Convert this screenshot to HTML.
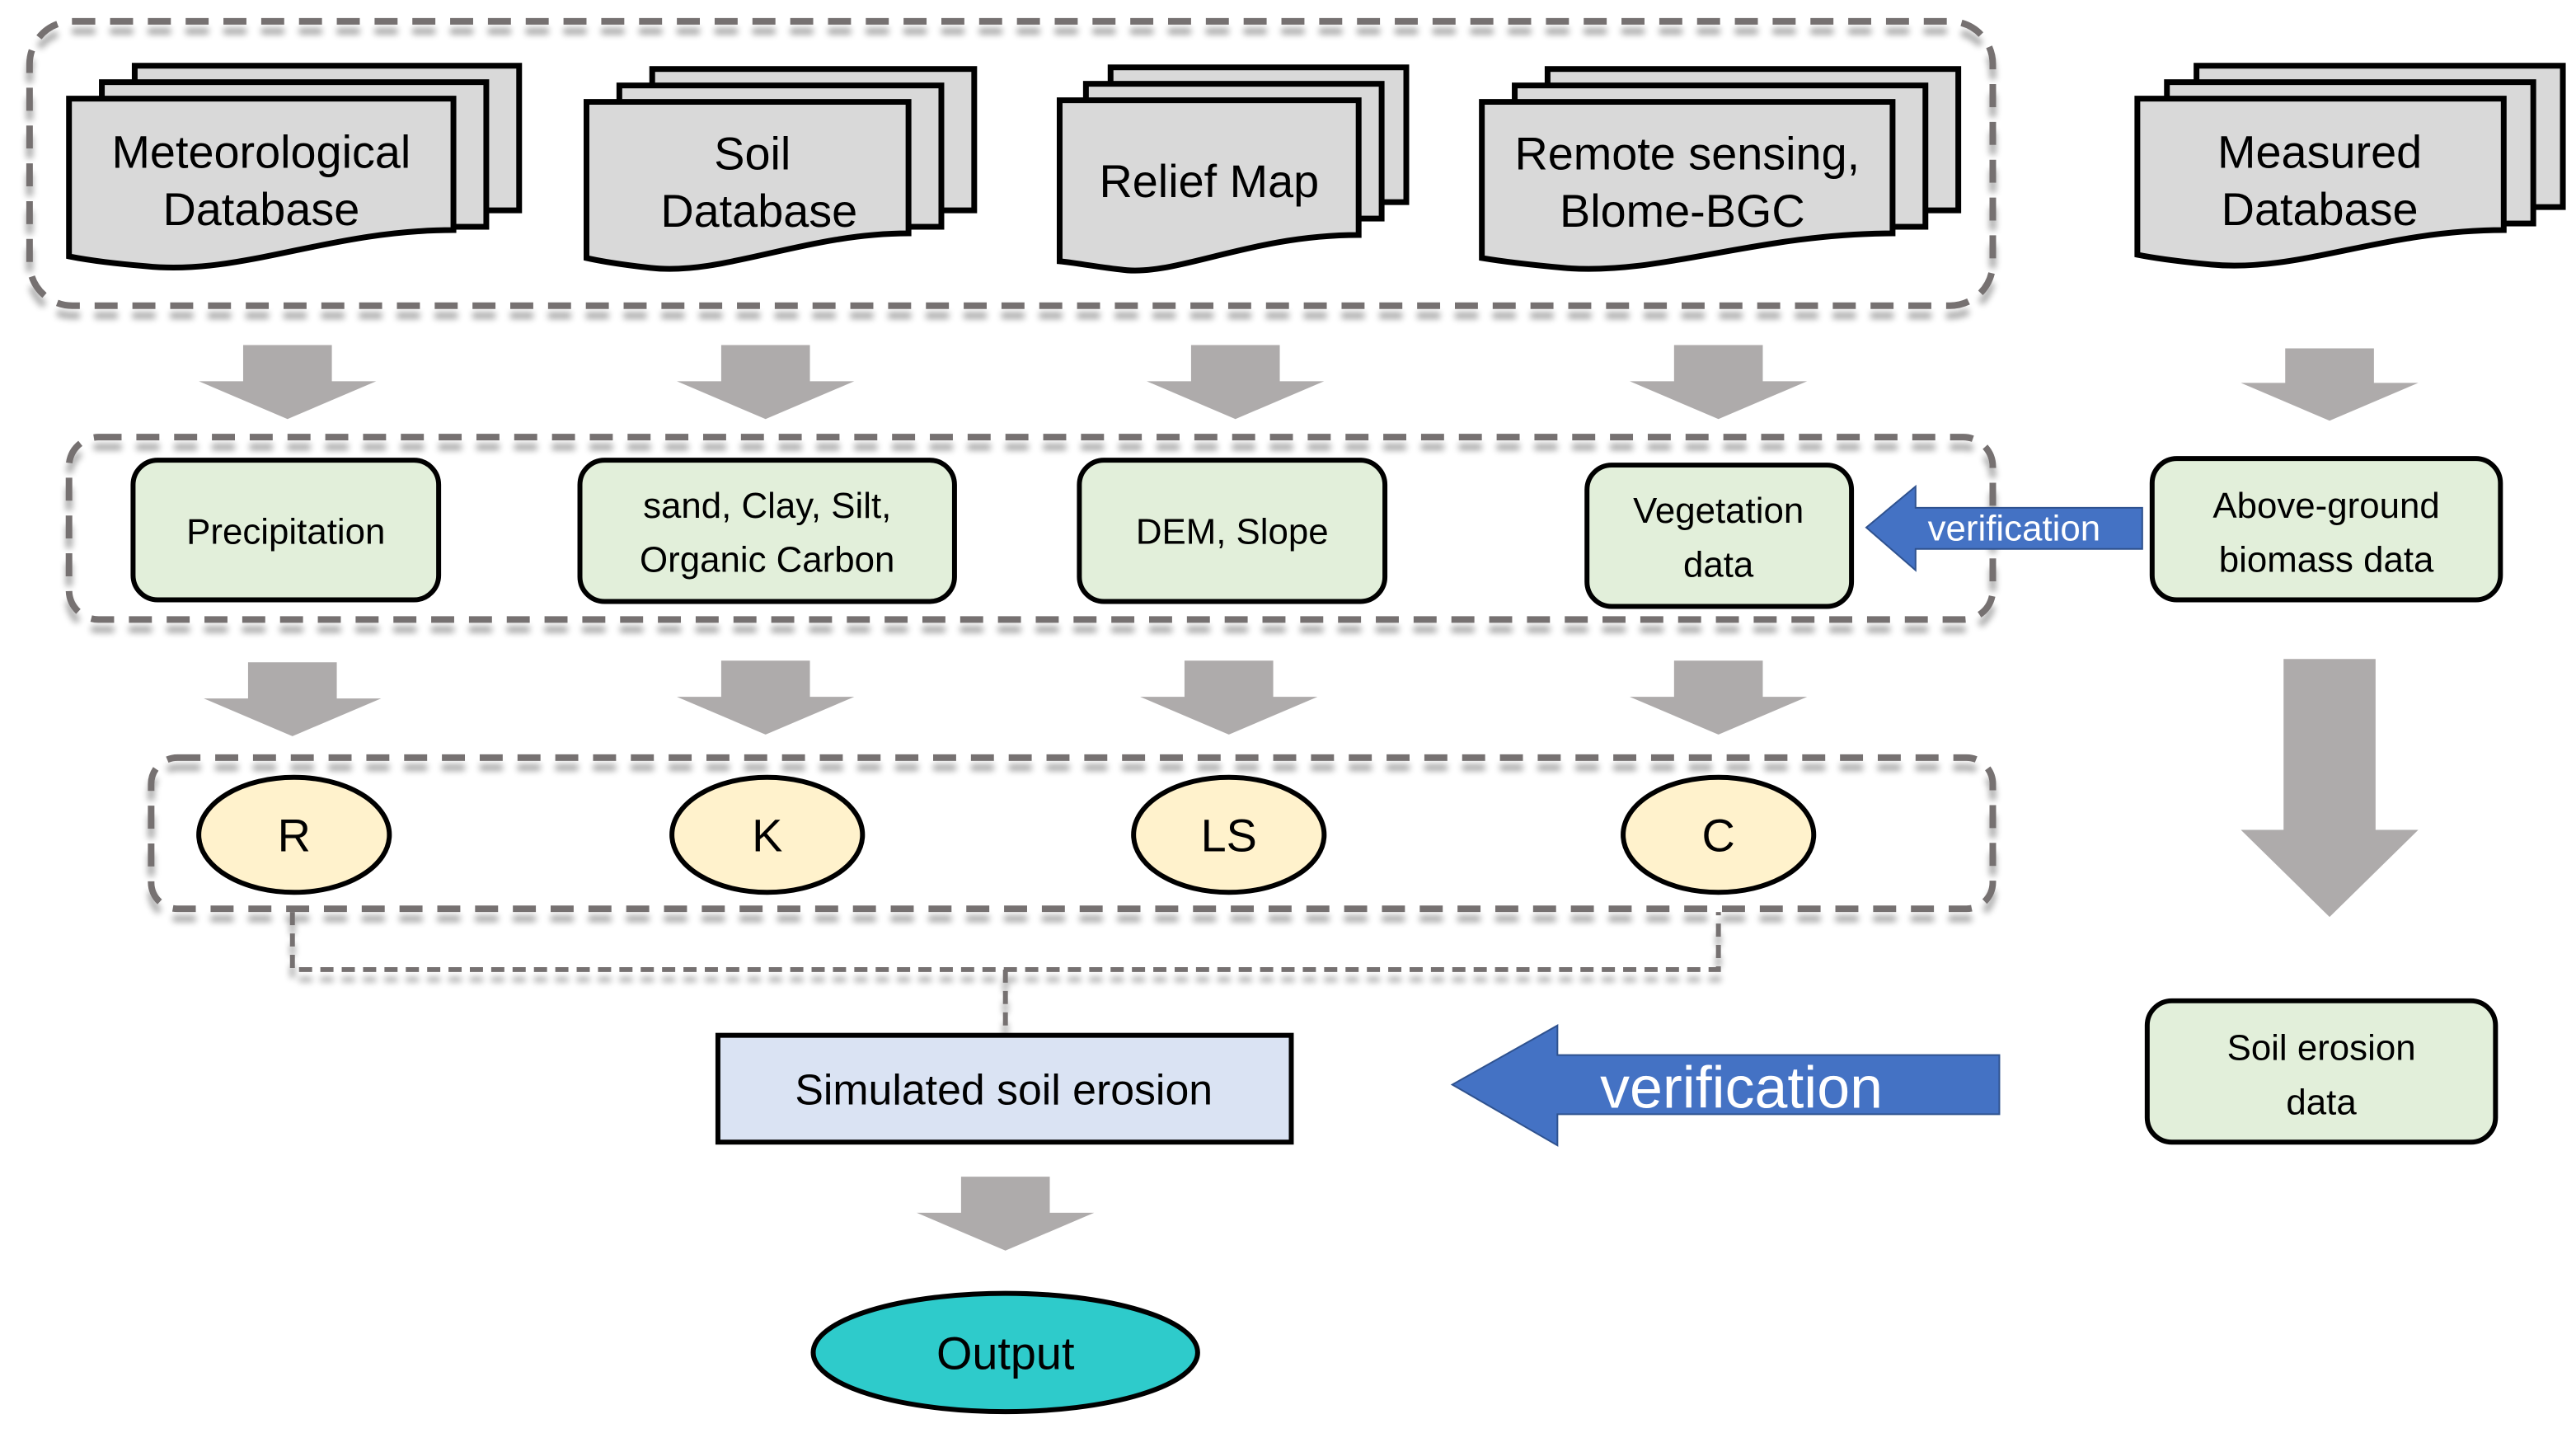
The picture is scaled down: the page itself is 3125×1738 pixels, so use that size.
<!DOCTYPE html>
<html><head><meta charset="utf-8"><style>
html,body{margin:0;padding:0;background:#fff;}
svg{display:block;}
text{font-family:"Liberation Sans",Arial,sans-serif;fill:#000;}
</style></head><body>
<svg width="3125" height="1738" viewBox="0 0 1568 872" preserveAspectRatio="none" xmlns="http://www.w3.org/2000/svg">
<defs>
<filter id="sh" x="-5%" y="-10%" width="110%" height="130%"><feGaussianBlur in="SourceAlpha" stdDeviation="2"/><feOffset dx="0" dy="6"/><feComponentTransfer><feFuncA type="linear" slope="0.35"/></feComponentTransfer><feMerge><feMergeNode/><feMergeNode in="SourceGraphic"/></feMerge></filter>
</defs>
<g fill="none" stroke="#767171" stroke-width="4" stroke-dasharray="14 9" filter="url(#sh)">
<rect x="18" y="13" width="1195" height="173" rx="26"/>
<rect x="42" y="266" width="1171" height="111" rx="18"/>
<rect x="92" y="461" width="1121" height="92" rx="16"/>
<path d="M178,555 V590 H1046 V555 M612,590 V630" stroke-width="3" stroke-dasharray="8 5"/>
</g>

<g fill="#D9D9D9" stroke="#000" stroke-width="3.5">
<rect x="82" y="40" width="234" height="88"/><rect x="62" y="50" width="234" height="88"/>
<path d="M42,60 H276 V140 C200,140 147,168 89,162 C65,160 52,158 42,156 Z"/>
<rect x="397" y="42" width="196" height="86"/><rect x="377" y="52" width="196" height="86"/>
<path d="M357,62 H553 V142 C490,142 440,168 396,163 C378,161 366,159 357,157 Z"/>
<rect x="676" y="41" width="180" height="82"/><rect x="661" y="51" width="180" height="82"/>
<path d="M645,61 H827 V143 C760,143 715,169 682,164 C665,162 655,160 645,159 Z"/>
<rect x="942" y="42" width="250" height="86"/><rect x="922" y="52" width="250" height="86"/>
<path d="M902,62 H1152 V142 C1070,142 1010,168 952,163 C930,161 914,159 902,157 Z"/>
<rect x="1337" y="40" width="223" height="86"/><rect x="1319" y="50" width="223" height="86"/>
<path d="M1301,60 H1524 V140 C1450,140 1400,166 1346,161 C1325,159 1311,157 1301,155 Z"/>
</g>
<g font-size="28" text-anchor="middle">
<text x="159" y="102">Meteorological</text><text x="159" y="137">Database</text>
<text x="458" y="103">Soil</text><text x="462" y="138">Database</text>
<text x="736" y="120">Relief Map</text>
<text x="1027" y="103">Remote sensing,</text><text x="1024" y="138">Blome-BGC</text>
<text x="1412" y="102">Measured</text><text x="1412" y="137">Database</text>
</g>

<g fill="#AEABAB">
<polygon points="148,210 202,210 202,232 229,232 175,255 121,232 148,232"/>
<polygon points="439,210 493,210 493,232 520,232 466,255 412,232 439,232"/>
<polygon points="725,210 779,210 779,232 806,232 752,255 698,232 725,232"/>
<polygon points="1019,210 1073,210 1073,232 1100,232 1046,255 992,232 1019,232"/>
<polygon points="1391,212 1445,212 1445,233 1472,233 1418,256 1364,233 1391,233"/>
<polygon points="151,403 205,403 205,425 232,425 178,448 124,425 151,425"/>
<polygon points="439,402 493,402 493,424 520,424 466,447 412,424 439,424"/>
<polygon points="721,402 775,402 775,424 802,424 748,447 694,424 721,424"/>
<polygon points="1019,402 1073,402 1073,424 1100,424 1046,447 992,424 1019,424"/>
<polygon points="1390,401 1446,401 1446,505 1472,505 1418,558 1364,505 1390,505"/>
<polygon points="585,716 639,716 639,738 666,738 612,761 558,738 585,738"/>
</g>

<g fill="#E2EFDA" stroke="#000" stroke-width="3">
<rect x="81" y="280" width="186" height="85" rx="15"/>
<rect x="353" y="280" width="228" height="86" rx="15"/>
<rect x="657" y="280" width="186" height="86" rx="15"/>
<rect x="966" y="283" width="161" height="86" rx="15"/>
<rect x="1310" y="279" width="212" height="86" rx="15"/>
<rect x="1307" y="609" width="212" height="86" rx="15"/>
</g>
<g font-size="22" text-anchor="middle">
<text x="174" y="331">Precipitation</text>
<text x="467" y="315">sand, Clay, Silt,</text><text x="467" y="348">Organic Carbon</text>
<text x="750" y="331">DEM, Slope</text>
<text x="1046" y="318">Vegetation</text><text x="1046" y="351">data</text>
<text x="1416" y="315">Above-ground</text><text x="1416" y="348">biomass data</text>
<text x="1413" y="645">Soil erosion</text><text x="1413" y="678">data</text>
</g>

<polygon points="1304,309 1166,309 1166,296 1136,321 1166,347 1166,334 1304,334" fill="#4472C4" stroke="#2F528F" stroke-width="1"/>
<text x="1226" y="329" font-size="22" text-anchor="middle" style="fill:#fff">verification</text>
<polygon points="1217,642 948,642 948,624 884,660 948,697 948,678 1217,678" fill="#4472C4" stroke="#2F528F" stroke-width="1"/>
<text x="1060" y="674" font-size="36" text-anchor="middle" style="fill:#fff">verification</text>

<g fill="#FFF2CC" stroke="#000" stroke-width="3">
<ellipse cx="179" cy="508" rx="58" ry="35"/>
<ellipse cx="467" cy="508" rx="58" ry="35"/>
<ellipse cx="748" cy="508" rx="58" ry="35"/>
<ellipse cx="1046" cy="508" rx="58" ry="35"/>
</g>
<g font-size="28" text-anchor="middle">
<text x="179" y="518">R</text><text x="467" y="518">K</text><text x="748" y="518">LS</text><text x="1046" y="518">C</text>
</g>

<rect x="437" y="630" width="349" height="65" fill="#DAE3F3" stroke="#000" stroke-width="3"/>
<text x="611" y="672" font-size="26" text-anchor="middle">Simulated soil erosion</text>

<ellipse cx="612" cy="823" rx="117" ry="36" fill="#2ECBCB" stroke="#000" stroke-width="3"/>
<text x="612" y="833" font-size="28" text-anchor="middle">Output</text>
</svg>
</body></html>
